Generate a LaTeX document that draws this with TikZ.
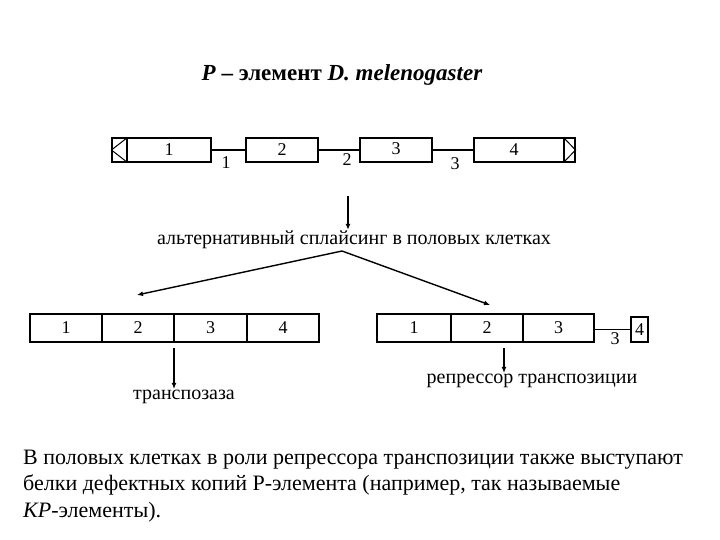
\documentclass[tikz,border=0pt]{standalone}
\usepackage{fontspec}
\setmainfont{Liberation Serif}
\usetikzlibrary{arrows.meta}
\begin{document}
\begin{tikzpicture}[x=1pt,y=-1pt,
  seg/.style={draw, line width=1.1pt, inner sep=0pt, minimum height=24pt, font=\fontsize{18}{20}\selectfont},
  num/.style={inner sep=0pt, font=\fontsize{18}{20}\selectfont},
  lbl/.style={inner sep=1pt, font=\fontsize{20}{23}\selectfont},
  link/.style={line width=1.1pt},
  arr/.style={line width=1.4pt, -{Latex[length=6pt,width=5pt]}},
  para/.style={inner sep=0pt, anchor=base west, font=\fontsize{22}{26}\selectfont}]
\useasboundingbox (0,0) rectangle (720,540);
% title
\node[inner sep=0pt, font=\fontsize{23}{26}\selectfont\bfseries] (title) at (342,75)
  {\textit{P} – элемент \textit{D. melenogaster}};
% top row
\node[seg, minimum width=15pt] (eL) at (119.5,150) {};
\node[seg, minimum width=84pt] (b1) at (169,150) {1};
\node[seg, minimum width=72pt] (b2) at (282,150) {2};
\node[seg, minimum width=72pt] (b3) at (396,150) {\raisebox{3pt}{3}};
\node[seg, minimum width=90pt] (b4) at (519,150) {\hspace*{-10pt}4};
\node[seg, minimum width=11pt] (eR) at (569.5,150) {};
\draw[line width=1pt] (eL.north east) -- (eL.west) -- (eL.south east);
\draw[line width=1pt] (eR.north west) -- (eR.east) -- (eR.south west);
\draw[link] (b1.east) -- (b2.west);
\draw[link] (b2.east) -- (b3.west);
\draw[link] (b3.east) -- (b4.west);
\node[num] (i1) at (226,163) {1};
\node[num] (i2) at (347,160) {2};
\node[num] (i3) at (455,164) {3};
% splicing
\coordinate (s0) at (348,196);
\node[lbl] (spl) at (354,240) {альтернативный сплайсинг в половых клетках};
\draw[arr] (s0) -- (spl.north -| s0);
\coordinate (fork) at (342,251);
\coordinate (tl) at (137,295);
\coordinate (tr) at (490,305);
\draw[arr] (fork) -- (tl);
\draw[arr] (fork) -- (tr);
% bottom left row
\node[seg, minimum width=72pt, minimum height=28pt] (l1) at (66,328) {1};
\node[seg, minimum width=72pt, minimum height=28pt] (l2) at (138,328) {2};
\node[seg, minimum width=73pt, minimum height=28pt] (l3) at (210.5,328) {3};
\node[seg, minimum width=72pt, minimum height=28pt] (l4) at (283,328) {4};
\coordinate (t0) at (174,348);
\node[lbl] (tp) at (184,397) {транспозаза};
\draw[arr] (t0) -- (tp.north -| t0);
% bottom right row
\node[seg, minimum width=74pt, minimum height=28pt] (r1) at (414,328) {1};
\node[seg, minimum width=72pt, minimum height=28pt] (r2) at (487,328) {2};
\node[seg, minimum width=71pt, minimum height=28pt] (r3) at (558.5,328) {3};
\node[seg, minimum width=17pt, minimum height=25pt] (r4) at (639.5,329.5) {4};
\draw[link] (r3.east |- r4.west) -- (r4.west);
\node[num] (j3) at (615,339) {3};
\coordinate (q0) at (504,348);
\node[lbl] (rep) at (532,381) {репрессор транспозиции};
\draw[arr] (q0) -- (rep.north -| q0);
% paragraph
\node[para] (p1) at (23,464) {В половых клетках в роли репрессора транспозиции также выступают};
\node[para] (p2) at (23,490) {белки дефектных копий Р-элемента (например, так называемые};
\node[para] (p3) at (23,517) {\textit{KP}-элементы).};
\end{tikzpicture}
\end{document}
